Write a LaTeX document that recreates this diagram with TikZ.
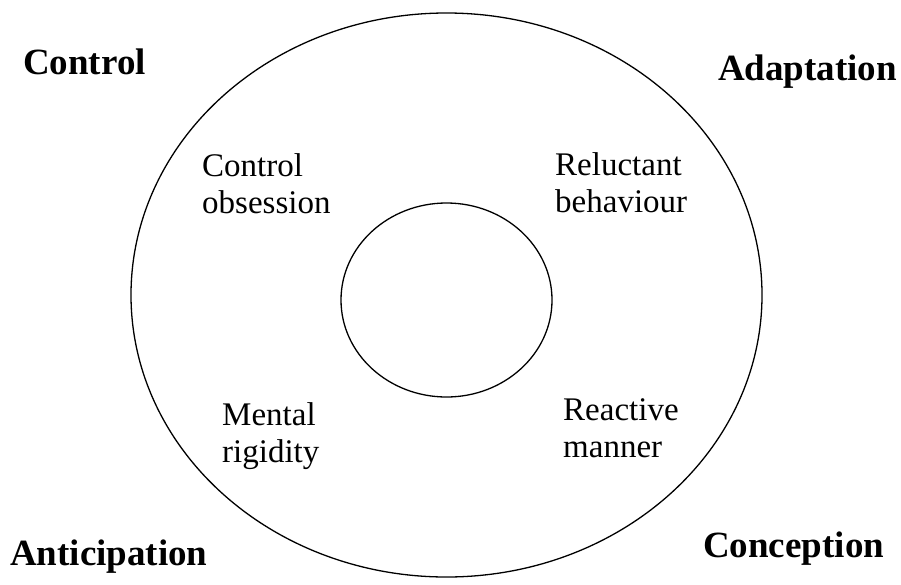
\documentclass[tikz,border=0pt]{standalone}
\usepackage{fontspec}
\setmainfont{Liberation Serif}
\begin{document}
\begin{tikzpicture}[x=1pt,y=-1pt,
  ring/.style={draw=black,line width=1.3pt},
  corner/.style={inner sep=0pt,anchor=base west,font=\fontsize{37}{40}\selectfont\bfseries},
  trait/.style={inner sep=0pt,anchor=base west,align=left,font=\fontsize{33}{37}\selectfont}]
\useasboundingbox (0,0) rectangle (901,584);
\draw[ring] (446.5,295) ellipse [x radius=315.5, y radius=282];
\draw[ring] (446.5,300) ellipse [x radius=105.5, y radius=97];
\node[corner] (ctl) at (23,74) {Control};
\node[corner] (ada) at (718,80) {Adaptation};
\node[corner] (ant) at (10,565) {Anticipation};
\node[corner] (con) at (703,557) {Conception};
\node[trait] (obs) at (202,213) {Control\\obsession};
\node[trait] (rel) at (555,212) {Reluctant\\behaviour};
\node[trait] (men) at (222,462) {Mental\\rigidity};
\node[trait] (rea) at (563,457) {Reactive\\manner};
\end{tikzpicture}
\end{document}
